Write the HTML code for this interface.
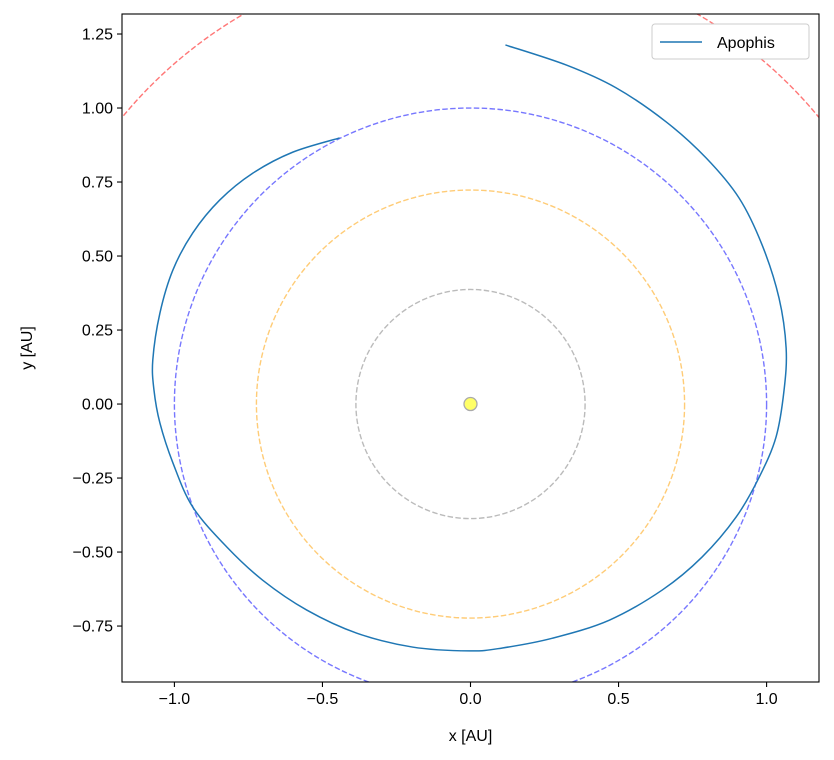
<!DOCTYPE html>
<html><head><meta charset="utf-8"><style>
html,body{margin:0;background:#fff;width:834px;height:760px;overflow:hidden;}
svg{display:block;font-family:"Liberation Sans","DejaVu Sans",sans-serif;}
</style></head><body>
<svg id="chart" width="834" height="760"></svg>
<script>
const xTicks=[-1.0,-0.5,0.0,0.5,1.0];
const xTickLabels=["−1.0","−0.5","0.0","0.5","1.0"];
const yTicks=[1.25,1.0,0.75,0.5,0.25,0.0,-0.25,-0.5,-0.75];
const yTickLabels=["1.25","1.00","0.75","0.50","0.25","0.00","−0.25","−0.50","−0.75"];
const planetNames=["mercury","venus","earth","mars"];
const planetRadii=[0.387,0.723,1.0,1.524];
const planetColors=["#bbbbbb","#ffcc77","#7777ff","#ff7777"];
const apophisX=[0.118,0.324,0.492,0.661,0.796,0.907,0.985,1.042,1.066,1.059,1.032,0.975,0.897,0.782,0.648,0.469,0.277,0.108,-0.003,-0.196,-0.384,-0.553,-0.702,-0.823,-0.938,-1.005,-1.049,-1.069,-1.073,-1.049,-1.005,-0.938,-0.847,-0.735,-0.600,-0.442];
const apophisY=[1.213,1.145,1.068,0.953,0.831,0.696,0.537,0.358,0.189,0.047,-0.111,-0.247,-0.382,-0.517,-0.628,-0.730,-0.791,-0.824,-0.834,-0.821,-0.774,-0.696,-0.595,-0.483,-0.348,-0.199,-0.064,0.047,0.149,0.307,0.453,0.578,0.689,0.780,0.851,0.899];

const L=122,R=819,T=14,B=682;
const xMin=-1.177,xMax=1.177,yMin=-0.939,yMax=1.3176;
const sx=v=>L+(v-xMin)/(xMax-xMin)*(R-L);
const sy=v=>B-(v-yMin)/(yMax-yMin)*(B-T);
const NS="http://www.w3.org/2000/svg";
const svg=document.getElementById('chart');
function mk(tag,attrs,parent){const e=document.createElementNS(NS,tag);for(const k in attrs)e.setAttribute(k,attrs[k]);(parent||svg).appendChild(e);return e;}

const defs=mk('defs',{});
const cp=mk('clipPath',{id:'clip'},defs);
mk('rect',{x:L,y:T,width:R-L,height:B-T},cp);
const plot=mk('g',{'clip-path':'url(#clip)'});



planetRadii.forEach((r,i)=>{
  const c=mk('ellipse',{cx:sx(0),cy:sy(0),rx:sx(r)-sx(0),ry:sy(0)-sy(r),fill:'none',stroke:planetColors[i],'stroke-width':1.4,'stroke-dasharray':'5.5,2.4'},plot);
  
  
});

const pts=apophisX.map((x,i)=>[sx(x),sy(apophisY[i])]);
let d='M'+pts[0][0]+','+pts[0][1];
for(let i=0;i<pts.length-1;i++){
  const p0=pts[Math.max(0,i-1)],p1=pts[i],p2=pts[i+1],p3=pts[Math.min(pts.length-1,i+2)];
  const c1=[p1[0]+(p2[0]-p0[0])/6,p1[1]+(p2[1]-p0[1])/6];
  const c2=[p2[0]-(p3[0]-p1[0])/6,p2[1]-(p3[1]-p1[1])/6];
  d+=` C${c1[0]},${c1[1]} ${c2[0]},${c2[1]} ${p2[0]},${p2[1]}`;
}
const ap=mk('path',{d:d,fill:'none',stroke:'#1f77b4','stroke-width':1.5},plot);



const sun=mk('circle',{cx:sx(0),cy:sy(0),r:6.5,fill:'#ffff66',stroke:'#aaaaaa','stroke-width':1.3},plot);



const frame=mk('rect',{x:L,y:T,width:R-L,height:B-T,fill:'none',stroke:'#000','stroke-width':1.1});



xTicks.forEach((v,i)=>{
  const x=sx(v);
  const t=mk('line',{x1:x,x2:x,y1:B,y2:B+5,stroke:'#000','stroke-width':1.1});
  
  
  const lb=mk('text',{x:x,y:B+22,'text-anchor':'middle','font-size':16});
  lb.textContent=xTickLabels[i];
  
  
});
yTicks.forEach((v,i)=>{
  const y=sy(v);
  const t=mk('line',{x1:L-5,x2:L,y1:y,y2:y,stroke:'#000','stroke-width':1.1});
  
  
  const lb=mk('text',{x:L-9,y:y+5.5,'text-anchor':'end','font-size':16});
  lb.textContent=yTickLabels[i];
  
  
});
const xt=mk('text',{x:(L+R)/2,y:741,'text-anchor':'middle','font-size':16});
xt.textContent='x [AU]';


const yt=mk('text',{x:0,y:0,'text-anchor':'middle','font-size':16,transform:`translate(32,${(T+B)/2}) rotate(-90)`});
yt.textContent='y [AU]';



const lg=mk('g',{});


mk('rect',{x:652,y:24,width:157,height:35,rx:3,fill:'#fff',stroke:'#cccccc','stroke-width':1},lg);
const ll=mk('line',{x1:660,x2:702,y1:42,y2:42,stroke:'#1f77b4','stroke-width':1.5},lg);


const lt=mk('text',{x:717,y:48,'font-size':16},lg);
lt.textContent='Apophis';


</script>
</body></html>
